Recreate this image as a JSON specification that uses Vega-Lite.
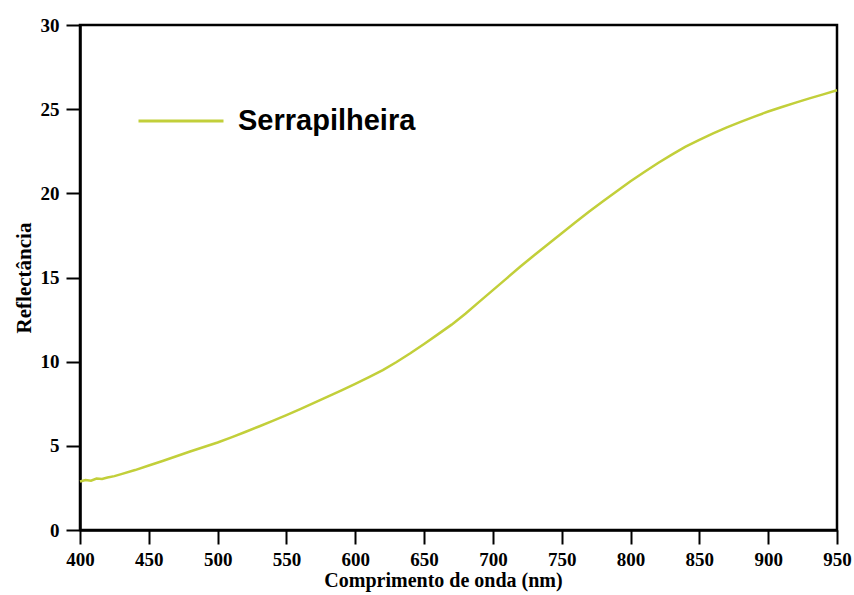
{
  "$schema": "https://vega.github.io/schema/vega-lite/v6.json",
  "width": 757,
  "height": 505,
  "autosize": {"type": "none"},
  "padding": {"left": 80, "top": 25, "right": 17, "bottom": 65},
  "background": "white",
  "config": {
    "view": {"stroke": "black", "strokeWidth": 2.5},
    "axis": {
      "domainColor": "black",
      "domainWidth": 2.5,
      "grid": false,
      "labelFont": "Liberation Serif",
      "labelFontWeight": "bold",
      "labelFontSize": 19,
      "labelColor": "black",
      "titleFont": "Liberation Serif",
      "titleFontWeight": "bold",
      "titleColor": "black"
    }
  },
  "data": {
    "values": [
      {"comprimento": 400, "reflectancia": 2.88, "serie": "Serrapilheira"},
      {"comprimento": 404, "reflectancia": 2.97, "serie": "Serrapilheira"},
      {"comprimento": 408, "reflectancia": 2.93, "serie": "Serrapilheira"},
      {"comprimento": 412, "reflectancia": 3.06, "serie": "Serrapilheira"},
      {"comprimento": 416, "reflectancia": 3.03, "serie": "Serrapilheira"},
      {"comprimento": 420, "reflectancia": 3.12, "serie": "Serrapilheira"},
      {"comprimento": 425, "reflectancia": 3.2, "serie": "Serrapilheira"},
      {"comprimento": 430, "reflectancia": 3.32, "serie": "Serrapilheira"},
      {"comprimento": 440, "reflectancia": 3.56, "serie": "Serrapilheira"},
      {"comprimento": 450, "reflectancia": 3.83, "serie": "Serrapilheira"},
      {"comprimento": 460, "reflectancia": 4.1, "serie": "Serrapilheira"},
      {"comprimento": 470, "reflectancia": 4.38, "serie": "Serrapilheira"},
      {"comprimento": 480, "reflectancia": 4.66, "serie": "Serrapilheira"},
      {"comprimento": 490, "reflectancia": 4.93, "serie": "Serrapilheira"},
      {"comprimento": 500, "reflectancia": 5.2, "serie": "Serrapilheira"},
      {"comprimento": 510, "reflectancia": 5.5, "serie": "Serrapilheira"},
      {"comprimento": 520, "reflectancia": 5.82, "serie": "Serrapilheira"},
      {"comprimento": 530, "reflectancia": 6.15, "serie": "Serrapilheira"},
      {"comprimento": 540, "reflectancia": 6.48, "serie": "Serrapilheira"},
      {"comprimento": 550, "reflectancia": 6.82, "serie": "Serrapilheira"},
      {"comprimento": 560, "reflectancia": 7.18, "serie": "Serrapilheira"},
      {"comprimento": 570, "reflectancia": 7.55, "serie": "Serrapilheira"},
      {"comprimento": 580, "reflectancia": 7.93, "serie": "Serrapilheira"},
      {"comprimento": 590, "reflectancia": 8.3, "serie": "Serrapilheira"},
      {"comprimento": 600, "reflectancia": 8.68, "serie": "Serrapilheira"},
      {"comprimento": 610, "reflectancia": 9.08, "serie": "Serrapilheira"},
      {"comprimento": 620, "reflectancia": 9.5, "serie": "Serrapilheira"},
      {"comprimento": 630, "reflectancia": 9.98, "serie": "Serrapilheira"},
      {"comprimento": 640, "reflectancia": 10.5, "serie": "Serrapilheira"},
      {"comprimento": 650, "reflectancia": 11.05, "serie": "Serrapilheira"},
      {"comprimento": 660, "reflectancia": 11.62, "serie": "Serrapilheira"},
      {"comprimento": 670, "reflectancia": 12.2, "serie": "Serrapilheira"},
      {"comprimento": 680, "reflectancia": 12.85, "serie": "Serrapilheira"},
      {"comprimento": 690, "reflectancia": 13.55, "serie": "Serrapilheira"},
      {"comprimento": 700, "reflectancia": 14.25, "serie": "Serrapilheira"},
      {"comprimento": 710, "reflectancia": 14.95, "serie": "Serrapilheira"},
      {"comprimento": 720, "reflectancia": 15.65, "serie": "Serrapilheira"},
      {"comprimento": 730, "reflectancia": 16.32, "serie": "Serrapilheira"},
      {"comprimento": 740, "reflectancia": 16.98, "serie": "Serrapilheira"},
      {"comprimento": 750, "reflectancia": 17.63, "serie": "Serrapilheira"},
      {"comprimento": 760, "reflectancia": 18.28, "serie": "Serrapilheira"},
      {"comprimento": 770, "reflectancia": 18.92, "serie": "Serrapilheira"},
      {"comprimento": 780, "reflectancia": 19.53, "serie": "Serrapilheira"},
      {"comprimento": 790, "reflectancia": 20.13, "serie": "Serrapilheira"},
      {"comprimento": 800, "reflectancia": 20.72, "serie": "Serrapilheira"},
      {"comprimento": 810, "reflectancia": 21.27, "serie": "Serrapilheira"},
      {"comprimento": 820, "reflectancia": 21.8, "serie": "Serrapilheira"},
      {"comprimento": 830, "reflectancia": 22.3, "serie": "Serrapilheira"},
      {"comprimento": 840, "reflectancia": 22.77, "serie": "Serrapilheira"},
      {"comprimento": 850, "reflectancia": 23.18, "serie": "Serrapilheira"},
      {"comprimento": 860, "reflectancia": 23.56, "serie": "Serrapilheira"},
      {"comprimento": 870, "reflectancia": 23.92, "serie": "Serrapilheira"},
      {"comprimento": 880, "reflectancia": 24.25, "serie": "Serrapilheira"},
      {"comprimento": 890, "reflectancia": 24.56, "serie": "Serrapilheira"},
      {"comprimento": 900, "reflectancia": 24.86, "serie": "Serrapilheira"},
      {"comprimento": 910, "reflectancia": 25.13, "serie": "Serrapilheira"},
      {"comprimento": 920, "reflectancia": 25.39, "serie": "Serrapilheira"},
      {"comprimento": 930, "reflectancia": 25.64, "serie": "Serrapilheira"},
      {"comprimento": 940, "reflectancia": 25.88, "serie": "Serrapilheira"},
      {"comprimento": 950, "reflectancia": 26.12, "serie": "Serrapilheira"}
    ]
  },
  "mark": {"type": "line", "strokeWidth": 2.5, "interpolate": "linear"},
  "encoding": {
    "x": {
      "field": "comprimento",
      "type": "quantitative",
      "scale": {"domain": [400, 950], "nice": false, "zero": false},
      "axis": {
        "values": [400, 450, 500, 550, 600, 650, 700, 750, 800, 850, 900, 950],
        "ticks": true,
        "tickColor": "black",
        "tickWidth": 2,
        "tickSize": 14,
        "encode": {
          "ticks": {
            "update": {
              "stroke": {"value": "black"},
              "strokeOpacity": {"value": 1},
              "strokeWidth": {"value": 2},
              "opacity": {"value": 1}
            }
          }
        },
        "title": "Comprimento de onda (nm)",
        "titleFontSize": 20,
        "titlePadding": 1,
        "titleX": 363,
        "labelPadding": 6,
        "labelFlush": false
      }
    },
    "y": {
      "field": "reflectancia",
      "type": "quantitative",
      "scale": {"domain": [0, 30], "nice": false},
      "axis": {
        "values": [0, 5, 10, 15, 20, 25, 30],
        "ticks": true,
        "tickColor": "black",
        "tickWidth": 2,
        "tickSize": 14,
        "encode": {
          "ticks": {
            "update": {
              "stroke": {"value": "black"},
              "strokeOpacity": {"value": 1},
              "strokeWidth": {"value": 2},
              "opacity": {"value": 1}
            }
          }
        },
        "title": "Reflectância",
        "titleFontSize": 21,
        "titlePadding": 6,
        "labelPadding": 7,
        "labelFlush": false
      }
    },
    "color": {
      "field": "serie",
      "type": "nominal",
      "scale": {"range": ["#c2cf3a"]},
      "legend": {
        "title": null,
        "orient": "none",
        "legendX": 57,
        "legendY": 52,
        "symbolType": "stroke",
        "symbolSize": 7225,
        "symbolStrokeWidth": 3,
        "labelFont": "Liberation Sans",
        "labelFontWeight": "bold",
        "labelFontSize": 29,
        "labelColor": "black",
        "labelOffset": 13,
        "labelLimit": 0
      }
    }
  }
}
